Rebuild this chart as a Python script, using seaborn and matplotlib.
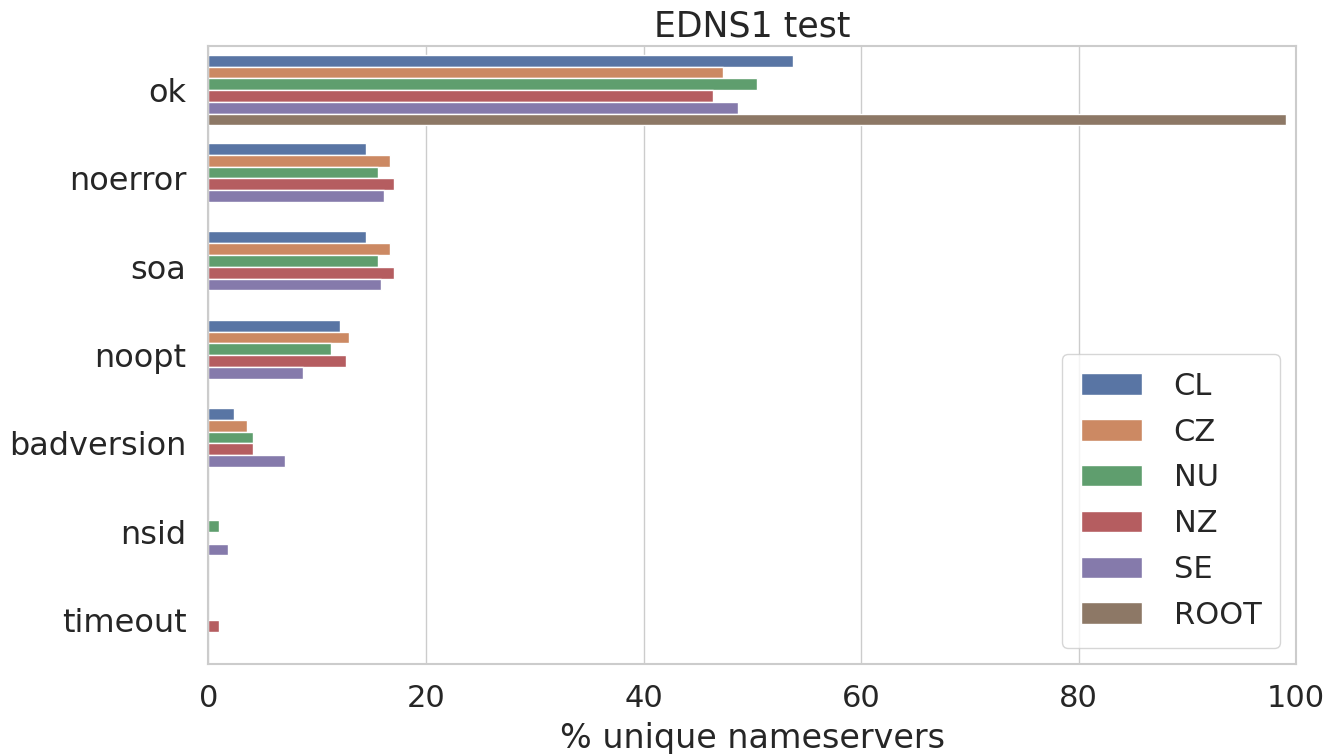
import numpy as np
import pandas as pd
import seaborn as sns
import matplotlib
matplotlib.use("Agg")
import matplotlib.pyplot as plt

# Data (% unique nameservers)
tests = ["ok", "noerror", "soa", "noopt", "badversion", "nsid", "timeout"]
zones = ["CL", "CZ", "NU", "NZ", "SE", "ROOT"]

cl = [53.7, 14.5, 14.5, 12.1, 2.3, 0.0, 0.0]
cz = [47.3, 16.7, 16.7, 12.9, 3.5, 0.0, 0.0]
nu = [50.4, 15.6, 15.6, 11.3, 4.1, 1.0, 0.0]
nz = [46.4, 17.1, 17.1, 12.6, 4.1, 0.0, 1.0]
se = [48.7, 16.1, 15.9, 8.7, 7.0, 1.75, 0.0]
root = [99.1, np.nan, np.nan, np.nan, np.nan, np.nan, np.nan]

# long form table for seaborn
rows = []
for zone, vals in zip(zones, [cl, cz, nu, nz, se, root]):
    for t, v in zip(tests, vals):
        rows.append({"test": t, "zone": zone, "pct": v})
df = pd.DataFrame(rows)

sns.set_theme(style="whitegrid")
fig = plt.figure(figsize=(13.28, 7.54), dpi=100)
ax = fig.add_axes([0.157, 0.119, 0.819, 0.82])

sns.barplot(data=df, x="pct", y="test", hue="zone", order=tests, hue_order=zones,
            orient="h", palette="deep", saturation=0.75, ax=ax)

ax.set_xlim(0, 100)
ax.set_title("EDNS1 test", fontsize=25, pad=7)
ax.set_xlabel("% unique nameservers", fontsize=24, labelpad=7)
ax.set_ylabel("")
ax.tick_params(axis="x", labelsize=22, pad=8)
ax.tick_params(axis="y", labelsize=23, pad=10)
for s in ax.spines.values():
    s.set_color("#cccccc")
    s.set_linewidth(1.5)

leg = ax.legend(loc="lower right", fontsize=22, handlelength=2.0, handleheight=0.7,
                borderpad=0.6, labelspacing=0.55, handletextpad=1.05, frameon=True,
                borderaxespad=0, bbox_to_anchor=(0.985, 0.026))
leg.get_frame().set_edgecolor("#cccccc")

fig.savefig("out.png", dpi=100)
